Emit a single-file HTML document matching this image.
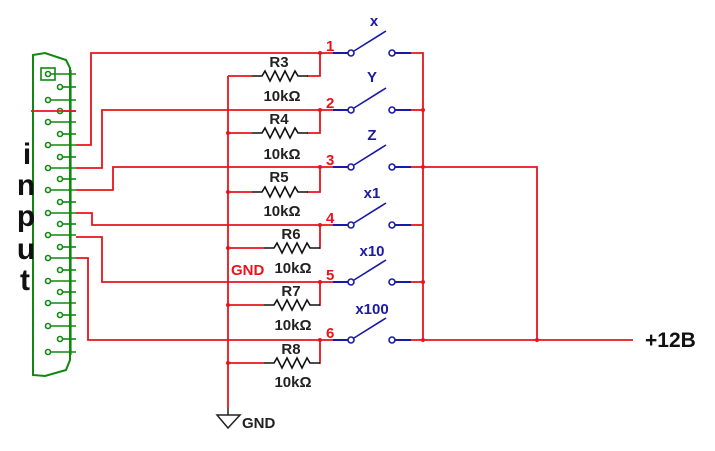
<!DOCTYPE html>
<html><head><meta charset="utf-8"><style>
html,body{margin:0;padding:0;background:#fff;}
svg{display:block;}
text{font-family:"Liberation Sans",sans-serif;font-weight:bold;}
</style></head><body>
<svg width="715" height="451" viewBox="0 0 715 451" xmlns="http://www.w3.org/2000/svg">
<defs>
<g id="res"><polyline points="0,0 10,0 13,-5 18,5 23,-5 28,5 33,-5 38,5 43,-5 46,0 56,0" fill="none" stroke="#111" stroke-width="1.6"/></g>
<g id="sw">
<line x1="333" y1="0" x2="348" y2="0" stroke="#1a1aa8" stroke-width="2"/>
<circle cx="351" cy="0" r="3" fill="#fff" stroke="#1a1aa8" stroke-width="1.6"/>
<line x1="354" y1="-2" x2="386" y2="-22" stroke="#1a1aa8" stroke-width="1.6"/>
<circle cx="392" cy="0" r="3" fill="#fff" stroke="#1a1aa8" stroke-width="1.6"/>
<line x1="395" y1="0" x2="411" y2="0" stroke="#1a1aa8" stroke-width="2"/>
</g>
</defs>
<g stroke="#118811" stroke-width="2" fill="none">
<path d="M33,55 L45,53 L66,60 L70,68 L70,360 L66,370 L45,376 L33,375 Z"/>
<rect x="41" y="68" width="14" height="12" stroke-width="1.6"/>
<line x1="71" y1="70" x2="71" y2="355" stroke-width="1.2"/>
</g>
<g stroke="#118811" stroke-width="1.6" fill="#fff">
<circle cx="48" cy="74" r="2.5"/><line x1="51" y1="74" x2="76" y2="74"/>
<circle cx="48" cy="100" r="2.5"/><line x1="51" y1="100" x2="76" y2="100"/>
<circle cx="48" cy="122" r="2.5"/><line x1="51" y1="122" x2="76" y2="122"/>
<circle cx="48" cy="145" r="2.5"/><line x1="51" y1="145" x2="76" y2="145"/>
<circle cx="48" cy="168" r="2.5"/><line x1="51" y1="168" x2="76" y2="168"/>
<circle cx="48" cy="190" r="2.5"/><line x1="51" y1="190" x2="76" y2="190"/>
<circle cx="48" cy="213" r="2.5"/><line x1="51" y1="213" x2="76" y2="213"/>
<circle cx="48" cy="235" r="2.5"/><line x1="51" y1="235" x2="76" y2="235"/>
<circle cx="48" cy="258" r="2.5"/><line x1="51" y1="258" x2="76" y2="258"/>
<circle cx="48" cy="281" r="2.5"/><line x1="51" y1="281" x2="76" y2="281"/>
<circle cx="48" cy="303" r="2.5"/><line x1="51" y1="303" x2="76" y2="303"/>
<circle cx="48" cy="326" r="2.5"/><line x1="51" y1="326" x2="76" y2="326"/>
<circle cx="48" cy="352" r="2.5"/><line x1="51" y1="352" x2="76" y2="352"/>
<circle cx="60" cy="87" r="2.5"/><line x1="63" y1="87" x2="76" y2="87"/>
<circle cx="60" cy="111" r="2.5"/><line x1="63" y1="111" x2="76" y2="111"/>
<circle cx="60" cy="134" r="2.5"/><line x1="63" y1="134" x2="76" y2="134"/>
<circle cx="60" cy="157" r="2.5"/><line x1="63" y1="157" x2="76" y2="157"/>
<circle cx="60" cy="179" r="2.5"/><line x1="63" y1="179" x2="76" y2="179"/>
<circle cx="60" cy="202" r="2.5"/><line x1="63" y1="202" x2="76" y2="202"/>
<circle cx="60" cy="224" r="2.5"/><line x1="63" y1="224" x2="76" y2="224"/>
<circle cx="60" cy="247" r="2.5"/><line x1="63" y1="247" x2="76" y2="247"/>
<circle cx="60" cy="270" r="2.5"/><line x1="63" y1="270" x2="76" y2="270"/>
<circle cx="60" cy="292" r="2.5"/><line x1="63" y1="292" x2="76" y2="292"/>
<circle cx="60" cy="315" r="2.5"/><line x1="63" y1="315" x2="76" y2="315"/>
<circle cx="60" cy="339" r="2.5"/><line x1="63" y1="339" x2="76" y2="339"/>
</g>
<g stroke="#e8141c" stroke-width="1.8" fill="none">
<polyline points="76,145 91,145 91,53 333,53"/>
<polyline points="31,111 76,111"/>
<polyline points="76,168 102,168 102,110 333,110"/>
<polyline points="76,190 113,190 113,167 333,167"/>
<polyline points="76,213 92,213 92,225 333,225"/>
<polyline points="76,237 102,237 102,282 333,282"/>
<polyline points="76,258 88,258 88,340 333,340"/>
<line x1="228" y1="76" x2="228" y2="408"/>
<polyline points="228,76 252,76"/><polyline points="307,76 320,76 320,53"/>
<polyline points="228,133 252,133"/><polyline points="307,133 320,133 320,110"/>
<polyline points="228,192 252,192"/><polyline points="307,192 320,192 320,167"/>
<polyline points="228,248 264,248"/><polyline points="319,248 320,248 320,225"/>
<polyline points="228,305 264,305"/><polyline points="319,305 320,305 320,282"/>
<polyline points="228,363 264,363"/><polyline points="319,363 320,363 320,340"/>
<polyline points="411,53 423,53 423,340"/>
<line x1="411" y1="110" x2="423" y2="110"/>
<line x1="411" y1="167" x2="423" y2="167"/>
<line x1="411" y1="225" x2="423" y2="225"/>
<line x1="411" y1="282" x2="423" y2="282"/>
<line x1="411" y1="340" x2="633" y2="340"/>
<polyline points="423,167 537,167 537,340"/>
</g>
<g fill="#e8141c">
<circle cx="320" cy="53" r="2"/><circle cx="320" cy="110" r="2"/><circle cx="320" cy="167" r="2"/>
<circle cx="320" cy="225" r="2"/><circle cx="320" cy="282" r="2"/><circle cx="320" cy="340" r="2"/>
<circle cx="228" cy="133" r="2"/><circle cx="228" cy="192" r="2"/><circle cx="228" cy="248" r="2"/>
<circle cx="228" cy="305" r="2"/><circle cx="228" cy="363" r="2"/>
<circle cx="423" cy="110" r="2"/><circle cx="423" cy="167" r="2"/><circle cx="423" cy="282" r="2"/>
<circle cx="423" cy="340" r="2"/><circle cx="537" cy="340" r="2"/>
</g>
<use href="#res" x="252" y="76"/><use href="#res" x="252" y="133"/><use href="#res" x="252" y="192"/>
<use href="#res" x="264" y="248"/><use href="#res" x="264" y="305"/><use href="#res" x="264" y="363"/>
<g font-size="15" fill="#222" text-anchor="middle">
<text x="279" y="67">R3</text><text x="282" y="101">10kΩ</text>
<text x="279" y="124">R4</text><text x="282" y="159">10kΩ</text>
<text x="279" y="182">R5</text><text x="282" y="216">10kΩ</text>
<text x="291" y="239">R6</text><text x="293" y="273">10kΩ</text>
<text x="291" y="296">R7</text><text x="293" y="330">10kΩ</text>
<text x="291" y="354">R8</text><text x="293" y="387">10kΩ</text>
</g>
<use href="#sw" x="0" y="53"/><use href="#sw" x="0" y="110"/><use href="#sw" x="0" y="167"/>
<use href="#sw" x="0" y="225"/><use href="#sw" x="0" y="282"/><use href="#sw" x="0" y="340"/>
<g font-size="15" fill="#1a1aa8" text-anchor="middle">
<text x="374" y="26">x</text><text x="372" y="82">Y</text><text x="372" y="140">Z</text>
<text x="372" y="198">x1</text><text x="372" y="256">x10</text><text x="372" y="314">x100</text>
</g>
<g font-size="15" fill="#e8141c">
<text x="326" y="51">1</text><text x="326" y="108">2</text><text x="326" y="165">3</text>
<text x="326" y="223">4</text><text x="326" y="280">5</text><text x="326" y="338">6</text>
<text x="231" y="275">GND</text>
</g>
<polygon points="217,415 240,415 228,428" fill="none" stroke="#222" stroke-width="1.5"/>
<line x1="228" y1="408" x2="228" y2="415" stroke="#222" stroke-width="1.5"/>
<text x="242" y="428" font-size="15" fill="#222">GND</text>
<text x="645" y="347" font-size="21" fill="#111">+12B</text>
<g font-size="30" fill="#111" text-anchor="middle">
<text x="27" y="164">i</text><text x="26" y="195">n</text><text x="26" y="226">p</text>
<text x="26" y="259">u</text><text x="25" y="290">t</text>
</g>
</svg>
</body></html>
